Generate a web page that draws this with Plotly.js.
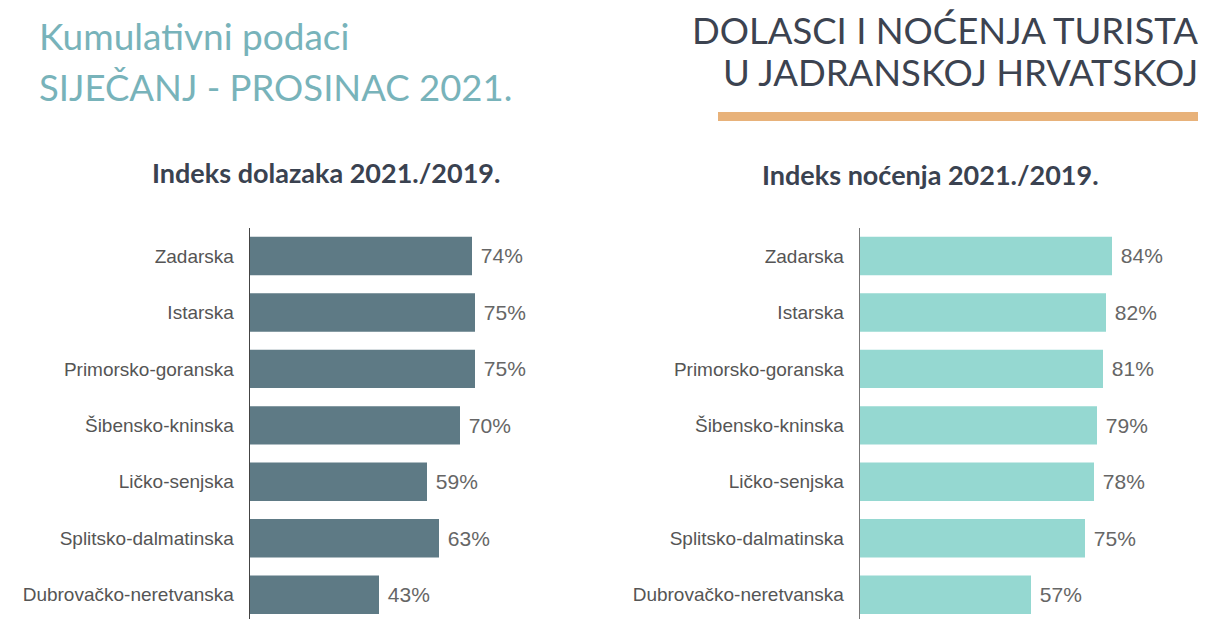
<!DOCTYPE html>
<html><head><meta charset="utf-8">
<script src="https://cdn.plot.ly/plotly-3.0.1.min.js"></script>
<style>html,body{margin:0;padding:0;background:#fff;}#chart{width:1211px;height:619px;}</style>
</head><body><div id="chart"></div>
<script>
const regions = ["Zadarska","Istarska","Primorsko-goranska","Šibensko-kninska","Ličko-senjska","Splitsko-dalmatinska","Dubrovačko-neretvanska"];
const arrivalsIndex = [74,75,75,70,59,63,43];
const nightsIndex = [84,82,81,79,78,75,57];
const pageTitle1 = "Kumulativni podaci";
const pageTitle2 = "SIJEČANJ - PROSINAC 2021.";
const headTitle1 = "DOLASCI I NOĆENJA TURISTA";
const headTitle2 = "U JADRANSKOJ HRVATSKOJ";
const leftTitle = "Indeks dolazaka 2021./2019.";
const rightTitle = "Indeks noćenja 2021./2019.";

const W = 1211, H = 619;
const px = x => x / W, py = y => 1 - y / H;

function barTrace(vals, color, xa, ya){
  return {type:'bar', orientation:'h', x: vals, y: regions, xaxis: xa, yaxis: ya,
    marker:{color: color}, width: 0.68,
    text: vals.map(v => '\u00a0' + v + '%'), textposition:'outside', cliponaxis:false,
    textfont:{family:'Liberation Sans, Arial, sans-serif', size:21, color:'#666'},
    hoverinfo:'none'};
}
const yCommon = {type:'category', categoryorder:'array', categoryarray: regions,
  range:[6.43,-0.5], domain:[0, py(227.75)], showline:true, linewidth:1.3,
  showgrid:false, zeroline:false, ticks:'', ticklabelstandoff:11,
  tickfont:{family:'Liberation Sans, Arial, sans-serif', size:19, color:'#555'}};
const xCommon = {range:[0,100], visible:false, showgrid:false, zeroline:false, fixedrange:true};

const layout = {
  width: W, height: H, margin:{l:0,r:0,t:0,b:0}, showlegend:false,
  paper_bgcolor:'#fff', plot_bgcolor:'rgba(0,0,0,0)', bargap:0.32,
  xaxis: Object.assign({}, xCommon, {domain:[px(250), px(550)], anchor:'y'}),
  yaxis: Object.assign({}, yCommon, {anchor:'x', linecolor:'#444'}),
  xaxis2: Object.assign({}, xCommon, {domain:[px(860), px(1160)], anchor:'y2'}),
  yaxis2: Object.assign({}, yCommon, {anchor:'x2', linecolor:'#777'}),
  annotations: [
    {text: pageTitle1, x: px(37), y: py(36), xref:'paper', yref:'paper', xanchor:'left', yanchor:'middle', showarrow:false,
     font:{family:'Lato, sans-serif', size:37, color:'#78b3ba'}},
    {text: pageTitle2, x: px(37), y: py(87), xref:'paper', yref:'paper', xanchor:'left', yanchor:'middle', showarrow:false,
     font:{family:'Lato, sans-serif', size:36.5, color:'#78b3ba'}},
    {text: headTitle1, x: px(1200), y: py(30), xref:'paper', yref:'paper', xanchor:'right', yanchor:'middle', showarrow:false,
     font:{family:'Lato, sans-serif', size:36.5, color:'#3c4350'}},
    {text: headTitle2, x: px(1200), y: py(72), xref:'paper', yref:'paper', xanchor:'right', yanchor:'middle', showarrow:false,
     font:{family:'Lato, sans-serif', size:36.5, color:'#3c4350'}},
    {text: '<b>' + leftTitle + '</b>', x: px(326), y: py(172), xref:'paper', yref:'paper', xanchor:'center', yanchor:'middle', showarrow:false,
     font:{family:'Lato, sans-serif', size:27, color:'#3a4250'}},
    {text: '<b>' + rightTitle + '</b>', x: px(930), y: py(174), xref:'paper', yref:'paper', xanchor:'center', yanchor:'middle', showarrow:false,
     font:{family:'Lato, sans-serif', size:27, color:'#3a4250'}}
  ],
  shapes: [
    {type:'rect', xref:'paper', yref:'paper', x0: px(718), x1: px(1198), y0: py(121), y1: py(112),
     fillcolor:'#e8b27a', line:{width:0}}
  ]
};
Plotly.newPlot('chart', [barTrace(arrivalsIndex, '#5e7a85', 'x', 'y'), barTrace(nightsIndex, '#95d8d1', 'x2', 'y2')], layout, {staticPlot:true});
</script></body></html>
